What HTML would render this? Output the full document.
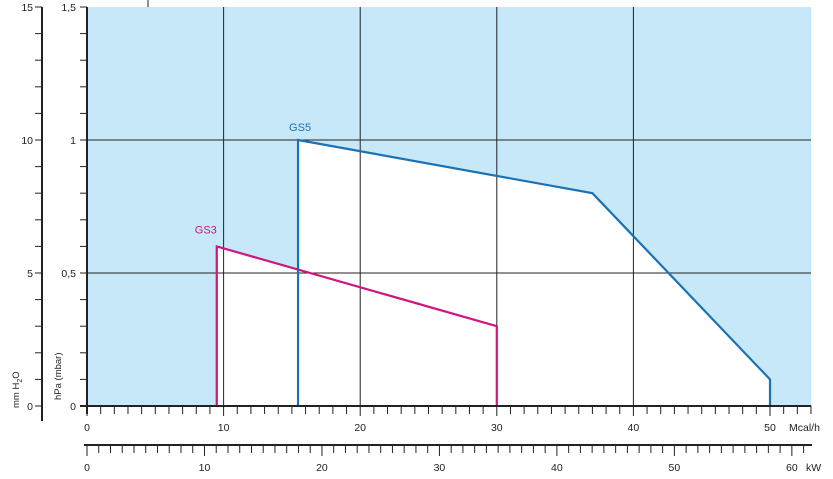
<!DOCTYPE html>
<html><head><meta charset="utf-8"><style>
body{margin:0;background:#fff}
svg{display:block;font-family:"Liberation Sans",sans-serif}
</style></head><body>
<svg id="c" width="833" height="479" xmlns="http://www.w3.org/2000/svg"></svg>
<script>
const gs3X=[9.5,9.5,30,30];
const gs3Y=[0,0.6,0.3,0];
const gs5X=[15.45,15.45,37,50,50];
const gs5Y=[0,1.0,0.8,0.1,0];
const mcalTicks=[0,10,20,30,40,50];
const gridX=[10,20,30,40];
const kwTicks=[0,10,20,30,40,50,60];
const hpaTicks=[0,0.5,1,1.5];
const hpaLabels=["0","0,5","1","1,5"];
const mmTicks=[0,5,10,15];

const NS="http://www.w3.org/2000/svg";
const svg=document.getElementById('c');
const X0=87,PX=13.66,Y0=406,PY=266;
const x=v=>X0+v*PX, y=v=>Y0-v*PY;
const kx=v=>X0+v*0.86*PX;
const my=v=>Y0-v*PY/10;
function el(t,a,p){const e=document.createElementNS(NS,t);for(const k in a)e.setAttribute(k,a[k]);(p||svg).appendChild(e);return e;}
function txt(s,a){const e=el('text',Object.assign({'font-size':10.5,fill:'#222'},a));e.textContent=s;return e;}

const bg=el('rect',{x:X0,y:7,width:811-X0,height:Y0-7,fill:'#c6e8f8'});


const pts=(xs,ys)=>xs.map((v,i)=>x(v)+','+y(ys[i])).join(' ');
const w3=el('polygon',{points:pts(gs3X,gs3Y),fill:'#fff'});


const w5=el('polygon',{points:pts(gs5X,gs5Y),fill:'#fff'});



gridX.forEach(v=>{const g=el('line',{x1:x(v),x2:x(v),y1:7,y2:Y0,stroke:'#222','stroke-width':1});

});
[0.5,1].forEach(v=>{const g=el('line',{x1:X0,x2:811,y1:y(v),y2:y(v),stroke:'#222','stroke-width':1});

});
el('line',{x1:148,x2:148,y1:0,y2:7,stroke:'#222'});

const l3=el('polyline',{points:pts(gs3X,gs3Y),fill:'none',stroke:'#d0157f','stroke-width':2.2});


const l5=el('polyline',{points:pts(gs5X,gs5Y),fill:'none',stroke:'#1a72b4','stroke-width':2.2});


const t5=txt('GS5',{x:x(gs5X[1])-9,y:y(gs5Y[1])-9,fill:'#1a72b4','font-size':11});


const t3=txt('GS3',{x:x(gs3X[1])-22,y:y(gs3Y[1])-13,fill:'#d0157f','font-size':11});



// hPa axis
el('line',{x1:X0,x2:X0,y1:7,y2:Y0+8,stroke:'#222','stroke-width':2});
for(let i=0;i<=15;i++)el('line',{x1:80,x2:X0,y1:y(i/10),y2:y(i/10),stroke:'#222'});
hpaTicks.forEach((v,i)=>{const t=txt(hpaLabels[i],{x:76,y:y(v)+4,'text-anchor':'end'});

});
const ht=txt('hPa (mbar)',{transform:'translate(61,400) rotate(-90)','font-size':9.5});



// mm axis
el('line',{x1:42,x2:42,y1:7,y2:421,stroke:'#222','stroke-width':2});
for(let i=0;i<=15;i++)el('line',{x1:35,x2:42,y1:my(i),y2:my(i),stroke:'#222'});
mmTicks.forEach(v=>{const t=txt(String(v),{x:33,y:my(v)+4,'text-anchor':'end'});

});
const mt=el('text',{transform:'translate(19,408) rotate(-90)','font-size':9.5,fill:'#222'});
mt.innerHTML='mm H<tspan font-size="7" dy="3">2</tspan><tspan dy="-3">O</tspan>';



// Mcal axis
el('line',{x1:80,x2:811,y1:Y0,y2:Y0,stroke:'#222','stroke-width':2});
for(let i=0;i<=53;i++)el('line',{x1:x(i),x2:x(i),y1:Y0,y2:Y0+(i%10==0?10:8),stroke:'#222'});
mcalTicks.forEach(v=>{const t=txt(String(v),{x:x(v),y:431,'text-anchor':'middle'});

});
const mu=txt('Mcal/h',{x:789,y:431});



// kW axis
el('line',{x1:84,x2:812,y1:445,y2:445,stroke:'#222','stroke-width':2});
for(let i=0;i<=61;i++)el('line',{x1:kx(i),x2:kx(i),y1:445,y2:445+(i%10==0?11:8),stroke:'#222'});
kwTicks.forEach(v=>{const t=txt(String(v),{x:kx(v),y:471,'text-anchor':'middle'});

});
const ku=txt('kW',{x:806,y:471});


</script>
</body></html>
